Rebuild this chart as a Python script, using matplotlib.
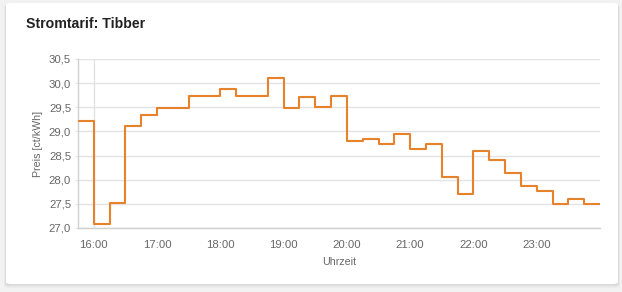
import matplotlib
matplotlib.use("Agg")
import matplotlib.pyplot as plt
from matplotlib.patches import FancyBboxPatch
import numpy as np

# Data: 15-minute price steps (ct/kWh) starting at 15:45
start_time = "15:45"
prices = [29.22, 27.08, 27.52, 29.11, 29.35,
          29.49, 29.49, 29.73, 29.73,
          29.88, 29.73, 29.73, 30.11,
          29.49, 29.71, 29.51, 29.74,
          28.80, 28.85, 28.73, 28.94,
          28.64, 28.73, 28.05, 27.71,
          28.60, 28.40, 28.13, 27.86,
          27.76, 27.50, 27.60, 27.50]
xtick_labels = ["16:00", "17:00", "18:00", "19:00", "20:00", "21:00", "22:00", "23:00"]
ytick_values = [27.0, 27.5, 28.0, 28.5, 29.0, 29.5, 30.0, 30.5]
title = "Stromtarif: Tibber"
ylabel = "Preis [ct/kWh]"
xlabel = "Uhrzeit"

plt.rcParams['font.family'] = ['Liberation Sans', 'DejaVu Sans']

W, H = 622, 292
fig = plt.figure(figsize=(W / 100, H / 100), dpi=100)
fig.patch.set_facecolor('#f2f2f2')

# card with soft shadow
cx, cy, cw, ch = 6, 8, 612, 281  # pixels: left, bottom (from figure bottom), width, height
for off, col in [(4, '#ececec'), (3, '#e6e6e6'), (2, '#e0e0e0'), (1, '#dadada')]:
    sh = FancyBboxPatch(((cx - off / 2) / W, (cy - off) / H), (cw + off) / W, (ch + off / 2) / H,
                        boxstyle="round,pad=0,rounding_size=0.008",
                        transform=fig.transFigure, facecolor=col,
                        edgecolor='none', zorder=-20 + (4 - off))
    fig.patches.append(sh)
card = FancyBboxPatch((cx / W, cy / H), cw / W, ch / H,
                      boxstyle="round,pad=0,rounding_size=0.008",
                      transform=fig.transFigure, facecolor='white',
                      edgecolor='none', zorder=-10)
fig.patches.append(card)

ax = fig.add_axes([78 / W, 1 - 228 / H, (600 - 78) / W, (228 - 59) / H])
ax.set_facecolor('none')

h0, m0 = map(int, start_time.split(':'))
t0 = h0 + m0 / 60
x = t0 + 0.25 * np.arange(len(prices) + 1)
y = np.append(prices, prices[-1])
ax.step(x, y, where='post', color='#e8822a', lw=1.5, zorder=3)

ax.set_xlim(t0, x[-1])
ax.set_ylim(ytick_values[0], ytick_values[-1])
ax.set_yticks(ytick_values)
ax.set_yticklabels([f"{v:.1f}".replace('.', ',') for v in ytick_values])
xt = [int(s.split(':')[0]) for s in xtick_labels]
ax.set_xticks(xt)
ax.set_xticklabels(xtick_labels)

ax.grid(axis='y', color='#e3e3e3', lw=1)
ax.axvline(xt[0], color='#e3e3e3', lw=1, zorder=1)
for s in ['top', 'right']:
    ax.spines[s].set_visible(False)
for s in ['left', 'bottom']:
    ax.spines[s].set_color('#d0d0d0')
    ax.spines[s].set_linewidth(1)
ax.tick_params(axis='y', length=2, color='#e3e3e3', labelsize=8.2, labelcolor='#666666', pad=3)
ax.tick_params(axis='x', length=0, labelsize=8.2, labelcolor='#666666', pad=9)
ax.set_axisbelow(True)

ax.set_ylabel(ylabel, fontsize=7.7, color='#666666', labelpad=4)
ax.set_xlabel(xlabel, fontsize=7.7, color='#666666', labelpad=5)

fig.text(26 / W, 1 - 24 / H, title, fontsize=10.2, fontweight='bold',
         color='#222222', va='center', ha='left')

fig.savefig('out.png', dpi=100, facecolor=fig.get_facecolor())
